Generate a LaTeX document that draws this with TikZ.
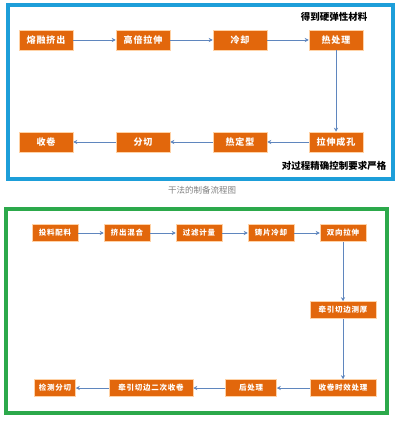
\documentclass[tikz,border=0pt]{standalone}
\usepackage{fontspec}
\setmainfont{Noto Sans CJK SC}
\newfontfamily\spaced[LetterSpace=10]{Noto Sans CJK SC}
\usetikzlibrary{arrows.meta}
\definecolor{boxorange}{HTML}{E2670C}
\definecolor{arrowblue}{HTML}{5F86BE}
\definecolor{framedblue}{HTML}{1D9ED9}
\definecolor{framegreen}{HTML}{2CA94B}
\begin{document}
\begin{tikzpicture}[x=1pt,y=-1pt,
  proc/.style={draw=orange!35,line width=0.5pt,fill=boxorange,text=white,font=\spaced\bfseries\fontsize{9}{10}\selectfont,
    minimum width=54pt,minimum height=20pt,inner sep=1pt},
  procs/.style={proc,font=\spaced\bfseries\fontsize{7.5}{8}\selectfont,minimum height=17pt},
  note/.style={font=\bfseries\fontsize{9.5}{10}\selectfont},
  flow/.style={draw=arrowblue,line width=0.8pt,-{Stealth[length=4pt,width=4pt]}}]
\useasboundingbox (0,0) rectangle (400,430);
% dry process
\draw[framedblue,line width=4pt] (7.5,5.5) rectangle (393,179);
\node[proc] (melt) at (46,40) {熔融挤出};
\node[proc] (draw) at (143,40) {高倍拉伸};
\node[proc] (cool) at (240,40) {冷却};
\node[proc] (heat) at (336,40) {热处理};
\node[proc] (pore) at (336,142) {拉伸成孔};
\node[proc] (set) at (240,142) {热定型};
\node[proc] (slit) at (143,142) {分切};
\node[proc] (wind) at (46,142) {收卷};
\node[note] (hard) at (334,17) {得到硬弹性材料};
\node[note] (strict) at (334,166) {对过程精确控制要求严格};
\draw[flow] (melt) -- (draw);
\draw[flow] (draw) -- (cool);
\draw[flow] (cool) -- (heat);
\draw[flow] (heat) -- (pore);
\draw[flow] (pore) -- (set);
\draw[flow] (set) -- (slit);
\draw[flow] (slit) -- (wind);
\node[text=gray,font=\fontsize{8.5}{9}\selectfont] (cap) at (202,190) {干法的制备流程图};
% wet process
\draw[framegreen,line width=4pt] (6,208.5) rectangle (387,412.5);
\node[procs,minimum width=46pt] (feed) at (55,233) {投料配料};
\node[procs,minimum width=46pt] (mix) at (127,233) {挤出混合};
\node[procs,minimum width=46pt] (filt) at (199,233) {过滤计量};
\node[procs,minimum width=46pt] (cast) at (271,233) {铸片冷却};
\node[procs,minimum width=46pt] (biax) at (343,233) {双向拉伸};
\node[procs,minimum width=66pt] (trim) at (343,310) {牵引切边测厚};
\node[procs,minimum width=66pt] (age) at (343,388) {收卷时效处理};
\node[procs,minimum width=51pt] (post) at (251,388) {后处理};
\node[procs,minimum width=84pt] (rewind) at (151,388) {牵引切边二次收卷};
\node[procs,minimum width=41pt] (insp) at (55,388) {检测分切};
\draw[flow] (feed) -- (mix);
\draw[flow] (mix) -- (filt);
\draw[flow] (filt) -- (cast);
\draw[flow] (cast) -- (biax);
\draw[flow] (biax) -- (trim);
\draw[flow] (trim) -- (age);
\draw[flow] (age) -- (post);
\draw[flow] (post) -- (rewind);
\draw[flow] (rewind) -- (insp);
\end{tikzpicture}
\end{document}
